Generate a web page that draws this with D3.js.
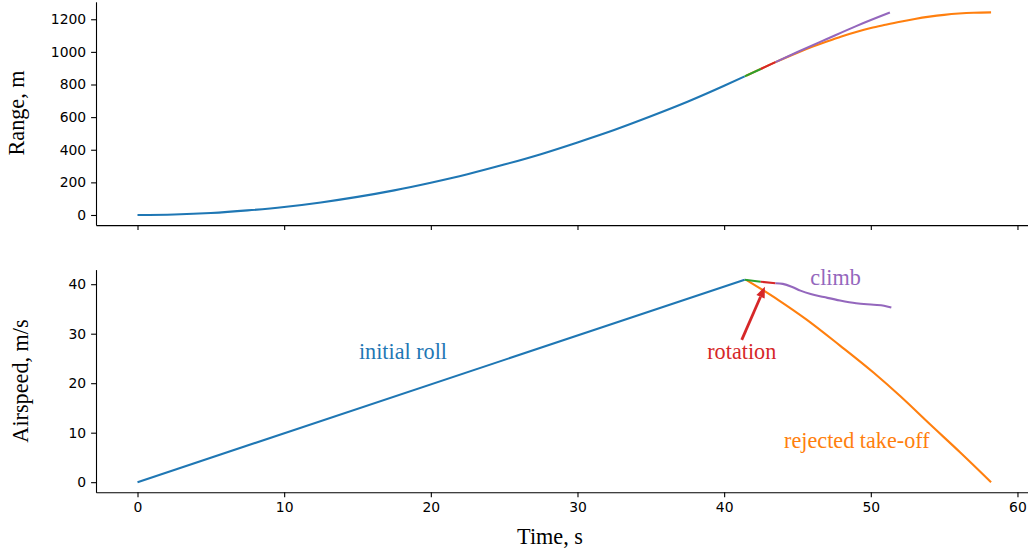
<!DOCTYPE html>
<html>
<head>
<meta charset="utf-8">
<script src="https://cdn.jsdelivr.net/npm/d3@7"></script>
<style>
  body { margin: 0; background: #fff; }
  .tick text { font-family: "DejaVu Sans", sans-serif; font-size: 13.9px; fill: #000; }
  .lbl { font-family: "Liberation Serif", "Times New Roman", serif; font-size: 22.2px; }
</style>
</head>
<body>
<div id="canvas"></div>
<script>
"use strict"

/* ---------- data: [time s, value] ---------- */
let rollRange = [[0, 0], [2.5, 3], [5, 12], [7.5, 28], [10, 49], [12.5, 77], [15, 111], [17.5, 151], [20, 198],
  [22.5, 250], [25, 309], [27.5, 373], [30, 445], [32.5, 521], [35, 605], [37.5, 694], [40, 792], [41.4, 850]];
let rollSpeed = [[0, 0], [41.4, 40.9]];

let rejectRange = [[41.5, 854], [43.5, 937], [45, 995], [46, 1031], [47, 1064], [48, 1095], [49, 1122], [50, 1146],
  [51, 1166], [52, 1185], [53, 1202], [54, 1216], [55, 1227], [56, 1235], [57, 1240], [58.2, 1242]];
let rejectSpeed = [[41.5, 40.9], [43.7, 36.8], [45.6, 32.9], [47.9, 27.6], [50.2, 22.1], [52.0, 17.4],
  [54.0, 11.8], [56.1, 6.0], [58.2, 0]];

let transRange = [[41.4, 850], [42.5, 895]];
let transSpeed = [[41.4, 40.9], [42.5, 40.5]];

let rotRange = [[42.5, 895], [43.5, 937]];
let rotSpeed = [[42.5, 40.5], [43.5, 40.2]];

let climbRange = [[43.5, 937], [45, 999], [47, 1079], [49, 1158], [51.3, 1241]];
let climbSpeed = [[43.5, 40.2], [44.0, 40.06], [44.6, 39.5], [45.2, 38.7], [45.9, 38.0], [46.8, 37.4],
  [47.9, 36.7], [49.0, 36.15], [50.2, 35.85], [50.9, 35.65], [51.4, 35.3]];

let timeTicks = [0, 10, 20, 30, 40, 50, 60];
let rangeTicks = [0, 200, 400, 600, 800, 1000, 1200];
let speedTicks = [0, 10, 20, 30, 40];

let segColors = { roll: "#1f77b4", reject: "#ff7f0e", trans: "#2ca02c", rot: "#d62728", climb: "#9467bd" };

/* ---------- canvas ---------- */
let drawing = d3.select("#canvas")
  .append("svg")
  .attr("width", 1028)
  .attr("height", 556);

let x = d3.scaleLinear().domain([-2.83, 61.1]).range([96, 1033.6]);
let yRange = d3.scaleLinear().domain([-62, 1307]).range([225.1, 1.8]);
let ySpeed = d3.scaleLinear().domain([-2.045, 42.95]).range([492.3, 269.6]);

/* ---------- axes ---------- */
function styleAxis(g) {
  g.selectAll("path").attr("stroke", "#000").attr("stroke-width", 1.1);
  g.selectAll(".tick line").attr("stroke", "#000").attr("stroke-width", 1.1);
}

let topX = drawing.append("g")
  .attr("transform", "translate(0," + 225.1 + ")")
  .call(d3.axisBottom(x).tickValues(timeTicks).tickSize(4.9).tickSizeOuter(0).tickFormat(""))
  .call(styleAxis);

let topY = drawing.append("g")
  .attr("transform", "translate(96,0)")
  .call(d3.axisLeft(yRange).tickValues(rangeTicks).tickSize(4.9).tickPadding(4.9).tickSizeOuter(0).tickFormat(d3.format("d")))
  .call(styleAxis);

let botX = drawing.append("g")
  .attr("transform", "translate(0," + 492.3 + ")")
  .call(d3.axisBottom(x).tickValues(timeTicks).tickSize(4.9).tickPadding(4.9).tickSizeOuter(0))
  .call(styleAxis);

let botY = drawing.append("g")
  .attr("transform", "translate(96,0)")
  .call(d3.axisLeft(ySpeed).tickValues(speedTicks).tickSize(4.9).tickPadding(4.9).tickSizeOuter(0))
  .call(styleAxis);

/* ---------- axis labels ---------- */
drawing.append("text").attr("class", "lbl")
  .attr("transform", "translate(24,113) rotate(-90)")
  .attr("text-anchor", "middle")
  .text("Range, m");

drawing.append("text").attr("class", "lbl")
  .attr("transform", "translate(28,381) rotate(-90)")
  .attr("text-anchor", "middle")
  .text("Airspeed, m/s");

drawing.append("text").attr("class", "lbl")
  .attr("x", 550).attr("y", 544)
  .attr("text-anchor", "middle")
  .text("Time, s");

/* ---------- curves ---------- */
let rangeLine = d3.line().x(d => x(d[0])).y(d => yRange(d[1])).curve(d3.curveMonotoneX);
let speedLine = d3.line().x(d => x(d[0])).y(d => ySpeed(d[1])).curve(d3.curveMonotoneX);

let segments = [
  ["roll", rollRange, rollSpeed],
  ["reject", rejectRange, rejectSpeed],
  ["trans", transRange, transSpeed],
  ["rot", rotRange, rotSpeed],
  ["climb", climbRange, climbSpeed]
];

segments.forEach(s => {
  drawing.append("path").attr("d", rangeLine(s[1]))
    .attr("fill", "none").attr("stroke", segColors[s[0]]).attr("stroke-width", 2.1);
  drawing.append("path").attr("d", speedLine(s[2]))
    .attr("fill", "none").attr("stroke", segColors[s[0]]).attr("stroke-width", 2.1);
});

/* ---------- annotations ---------- */
drawing.append("text").attr("class", "lbl")
  .attr("x", x(18.1)).attr("y", ySpeed(26.5))
  .attr("text-anchor", "middle").attr("dominant-baseline", "central")
  .attr("fill", segColors.roll)
  .text("initial roll");

drawing.append("text").attr("class", "lbl")
  .attr("x", x(47.6)).attr("y", ySpeed(41.3))
  .attr("text-anchor", "middle").attr("dominant-baseline", "central")
  .attr("fill", segColors.climb)
  .text("climb");

drawing.append("text").attr("class", "lbl")
  .attr("x", x(49.05)).attr("y", ySpeed(8.5))
  .attr("text-anchor", "middle").attr("dominant-baseline", "central")
  .attr("fill", segColors.reject)
  .text("rejected take-off");

drawing.append("text").attr("class", "lbl")
  .attr("x", x(41.2)).attr("y", ySpeed(26.5))
  .attr("text-anchor", "middle").attr("dominant-baseline", "central")
  .attr("fill", segColors.rot)
  .text("rotation");

/* rotation arrow: tail above the word, head on the red segment */
let arrowTail = [x(41.2), ySpeed(28.75)];
let arrowTip = [x(42.78), ySpeed(39.5)];
let ang = Math.atan2(arrowTip[1] - arrowTail[1], arrowTip[0] - arrowTail[0]);
let headLen = 11, headHalf = 4.5;
let base = [arrowTip[0] - headLen * Math.cos(ang), arrowTip[1] - headLen * Math.sin(ang)];

drawing.append("line")
  .attr("x1", arrowTail[0]).attr("y1", arrowTail[1])
  .attr("x2", base[0]).attr("y2", base[1])
  .attr("stroke", segColors.rot).attr("stroke-width", 2.8);

drawing.append("polygon")
  .attr("points", [
    arrowTip,
    [base[0] + headHalf * Math.sin(ang), base[1] - headHalf * Math.cos(ang)],
    [base[0] - headHalf * Math.sin(ang), base[1] + headHalf * Math.cos(ang)]
  ].map(p => p.join(",")).join(" "))
  .attr("fill", segColors.rot);
</script>
</body>
</html>
